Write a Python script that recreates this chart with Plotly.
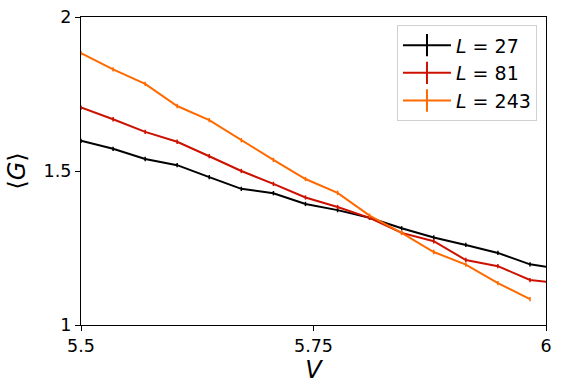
import plotly.graph_objects as go

V = [5.5, 5.5345, 5.569, 5.6034, 5.6379, 5.6724, 5.7069, 5.7414, 5.7759,
     5.8103, 5.8448, 5.8793, 5.9138, 5.9483, 5.9828, 6.0172]

G_27 = [1.598, 1.572, 1.539, 1.519, 1.480, 1.442, 1.428, 1.393, 1.373,
        1.348, 1.314, 1.284, 1.260, 1.234, 1.197, 1.181]
G_81 = [1.706, 1.668, 1.627, 1.595, 1.548, 1.500, 1.458, 1.414, 1.383,
        1.348, 1.299, 1.272, 1.211, 1.191, 1.146, 1.135]
G_243 = [1.883, 1.830, 1.783, 1.711, 1.665, 1.600, 1.536, 1.474, 1.429,
         1.355, 1.299, 1.237, 1.196, 1.136, 1.084]

err_27 = [0.007] * len(G_27)
err_81 = [0.007] * len(G_81)
err_243 = [0.007] * len(G_243)

series = [
    ("<i>L</i> = 27", G_27, err_27, "#000000"),
    ("<i>L</i> = 81", G_81, err_81, "#cc1100"),
    ("<i>L</i> = 243", G_243, err_243, "#ff6a00"),
]

fig = go.Figure()
for name, ys, errs, color in series:
    fig.add_trace(go.Scatter(
        x=V[:len(ys)], y=ys, mode="lines", name=name, showlegend=False,
        line=dict(color=color, width=2),
        error_y=dict(type="data", array=errs, visible=True, color=color,
                     thickness=1.5, width=0),
        cliponaxis=True,
    ))
for i, (name, ys, errs, color) in enumerate(series):
    fig.add_trace(go.Scatter(
        x=[None], y=[None], mode="lines+markers", name=name,
        legendgroup=f"g{i}",
        line=dict(color=color, width=2),
        marker=dict(symbol="line-ns", size=16, color=color,
                    line=dict(color=color, width=2)),
    ))

tick_font = dict(family="DejaVu Sans", size=17.5, color="black")
fig.update_layout(
    width=562, height=392,
    margin=dict(l=81, r=16, t=17, b=67, autoexpand=False),
    paper_bgcolor="white", plot_bgcolor="white",
    font=dict(family="DejaVu Sans", color="black"),
    showlegend=True,
    legend=dict(
        x=0.9806, y=0.973, xanchor="right", yanchor="top",
        bordercolor="#d0d0d0", borderwidth=1, bgcolor="rgba(255,255,255,0.8)",
        font=dict(family="DejaVu Sans", size=19, color="black"),
        traceorder="grouped", tracegroupgap=0, itemwidth=48,
    ),
    xaxis=dict(
        range=[5.5, 6.0], tickvals=[5.5, 5.75, 6.0], ticktext=["5.5", "5.75", "6"],
        showline=True, linecolor="black", linewidth=1.3, mirror=True,
        ticks="outside", ticklen=5, tickwidth=1.3, tickcolor="black",
        showgrid=False, zeroline=False, tickfont=tick_font, automargin=False,
        ticklabeloverflow="allow",
        title=dict(text="<i>V</i>", font=dict(family="DejaVu Sans", size=24), standoff=4),
    ),
    yaxis=dict(
        range=[1.0, 2.0], tickvals=[1.0, 1.5, 2.0], ticktext=["1", "1.5", "2"],
        showline=True, linecolor="black", linewidth=1.3, mirror=True,
        ticks="outside", ticklen=5, tickwidth=1.3, tickcolor="black",
        showgrid=False, zeroline=False, tickfont=tick_font, automargin=False,
        ticklabeloverflow="allow",
        title=dict(text="⟨<i>G</i>⟩", font=dict(family="DejaVu Sans", size=24), standoff=11),
    ),
)

fig.write_html("out.html", config={"displayModeBar": False},
               post_script="document.body.style.margin='0px';")
